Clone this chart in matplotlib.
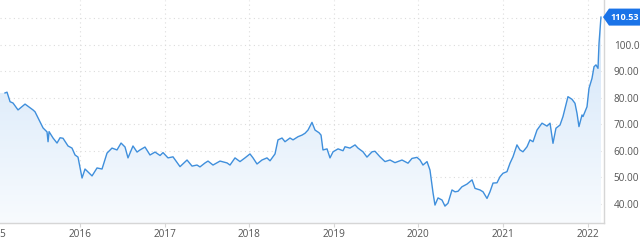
import numpy as np
import matplotlib
matplotlib.use("Agg")
import matplotlib.pyplot as plt
from matplotlib.patches import Polygon
from matplotlib.colors import LinearSegmentedColormap

plt.rcParams['font.family'] = ['Open Sans', 'DejaVu Sans']

# decimal-year dates and prices
dates = [2015.113, 2015.137, 2015.173, 2015.208, 2015.267, 2015.350, 2015.444, 2015.468,
         2015.563, 2015.610, 2015.622, 2015.634, 2015.681, 2015.728, 2015.764, 2015.799,
         2015.858, 2015.905, 2015.941, 2015.976, 2016.024, 2016.059, 2016.142, 2016.201,
         2016.260, 2016.319, 2016.378, 2016.437, 2016.485, 2016.532, 2016.567, 2016.626,
         2016.674, 2016.709, 2016.768, 2016.827, 2016.887, 2016.946, 2016.981, 2017.040,
         2017.099, 2017.182, 2017.265, 2017.324, 2017.383, 2017.418, 2017.478, 2017.513,
         2017.572, 2017.655, 2017.738, 2017.773, 2017.832, 2017.891, 2017.950, 2018.009,
         2018.045, 2018.092, 2018.151, 2018.210, 2018.246, 2018.305, 2018.340, 2018.388,
         2018.423, 2018.482, 2018.518, 2018.577, 2018.624, 2018.660, 2018.695, 2018.742,
         2018.778, 2018.825, 2018.849, 2018.872, 2018.920, 2018.955, 2018.991, 2019.050,
         2019.109, 2019.132, 2019.191, 2019.251, 2019.286, 2019.345, 2019.392, 2019.452,
         2019.487, 2019.546, 2019.605, 2019.664, 2019.723, 2019.806, 2019.877, 2019.924,
         2019.983, 2020.019, 2020.054, 2020.102, 2020.137, 2020.173, 2020.196, 2020.232,
         2020.279, 2020.314, 2020.350, 2020.397, 2020.433, 2020.468, 2020.515, 2020.574,
         2020.634, 2020.669, 2020.728, 2020.764, 2020.811, 2020.846, 2020.882, 2020.929,
         2020.965, 2021.000, 2021.047, 2021.083, 2021.118, 2021.165, 2021.201, 2021.236,
         2021.284, 2021.319, 2021.355, 2021.402, 2021.461, 2021.520, 2021.556, 2021.591,
         2021.626, 2021.674, 2021.709, 2021.768, 2021.816, 2021.851, 2021.875, 2021.898,
         2021.934, 2021.946, 2021.993, 2022.017, 2022.052, 2022.076, 2022.099, 2022.123,
         2022.135, 2022.158]
prices = [81.9, 82.2, 78.6, 78.1, 75.5, 77.7, 75.5, 74.8,
          68.7, 67.2, 63.5, 67.3, 64.9, 63.0, 65.0, 64.8,
          61.9, 61.1, 58.5, 57.7, 49.8, 53.2, 50.6, 53.6,
          53.2, 59.2, 61.1, 60.4, 63.0, 61.5, 57.4, 61.9,
          59.6, 60.4, 61.5, 58.5, 59.6, 58.3, 59.4, 57.4,
          57.8, 54.1, 56.6, 54.3, 54.7, 54.0, 55.5, 56.2,
          54.7, 56.2, 55.5, 54.7, 57.4, 56.0, 57.4, 58.9,
          57.4, 55.1, 56.6, 57.4, 56.3, 58.9, 64.2, 64.9,
          63.5, 64.9, 64.2, 65.4, 66.0, 66.7, 67.9, 70.8,
          67.9, 66.9, 66.0, 60.4, 60.8, 57.4, 59.7, 60.8,
          60.1, 61.6, 61.1, 62.3, 61.1, 59.7, 57.7, 59.7,
          59.9, 57.8, 56.0, 56.6, 55.6, 56.6, 55.4, 57.2,
          57.6, 56.6, 54.7, 56.0, 52.8, 44.2, 39.6, 42.3,
          41.5, 39.2, 40.3, 45.3, 44.6, 44.8, 46.5, 47.5,
          49.1, 45.9, 45.3, 44.6, 42.1, 44.6, 47.9, 48.0,
          50.3, 51.6, 52.2, 55.4, 57.8, 62.3, 60.4, 59.7,
          61.6, 64.2, 63.5, 67.9, 70.5, 69.4, 70.5, 62.9,
          68.6, 69.8, 73.0, 80.5, 79.5, 78.0, 74.2, 69.2,
          73.6, 73.0, 76.7, 83.7, 87.4, 91.8, 92.5, 91.2,
          100.6, 110.53]
year_ticks = [2015, 2016, 2017, 2018, 2019, 2020, 2021, 2022]
y_ticks = [40, 50, 60, 70, 80, 90, 100, 110]
last_label = "110.53"

W, H = 640, 242
fig = plt.figure(figsize=(W / 100, H / 100), dpi=100)
ax = fig.add_axes([0, 19 / H, 604 / W, 1 - 19 / H])

x = np.array(dates)
y = np.array(prices)
xmin, xmax = 2015.054, 2022.194
ymin, ymax = 32.83, 116.98
ax.set_xlim(xmin, xmax)
ax.set_ylim(ymin, ymax)

# gradient fill under the line
cmap = LinearSegmentedColormap.from_list("g", ["#f8fbfe", "#cfe3f8"])
grad = np.linspace(0, 1, 256).reshape(-1, 1)
im = ax.imshow(grad, extent=[xmin, xmax, ymin, ymax], origin="lower",
               aspect="auto", cmap=cmap, zorder=1)
verts = [(xmin, ymin), (xmin, y[0])] + list(zip(x, y)) + [(x[-1], ymin)]
poly = Polygon(verts, closed=True, facecolor="none", edgecolor="none")
ax.add_patch(poly)
im.set_clip_path(poly)

ax.plot(x, y, color="#3f8fdc", lw=1.0, zorder=3, solid_joinstyle="round")

# grid
for v in y_ticks:
    ax.axhline(v, color="#dcdcdc", lw=0.8, ls=(0, (1, 3)), zorder=0)
for t in year_ticks[1:]:
    ax.axvline(t, color="#dcdcdc", lw=0.8, ls=(0, (1, 3)), zorder=0)

for s in ["top", "left"]:
    ax.spines[s].set_visible(False)
for s in ["bottom", "right"]:
    ax.spines[s].set_color("#d6d6d6")
    ax.spines[s].set_linewidth(1)

ax.set_xticks(year_ticks[1:])
ax.set_xticklabels([str(t) for t in year_ticks[1:]])
ax.tick_params(axis="x", length=3, color="#d6d6d6", labelsize=7.2,
               labelcolor="#555555", pad=1.5)
ax.annotate(str(year_ticks[0]), xy=(year_ticks[0], 0), xycoords=ax.get_xaxis_transform(),
            xytext=(0, -4.5), textcoords="offset points",
            ha="center", va="top", fontsize=7.2, color="#555555", annotation_clip=False)

ax.yaxis.tick_right()
ax.set_yticks(y_ticks[:-1])
ax.set_yticklabels([f"{v:.2f}" for v in y_ticks[:-1]])
ax.tick_params(axis="y", length=0, labelsize=7.2, labelcolor="#555555", pad=7)

# last value badge
fig.canvas.draw()
px, py = ax.transData.transform((xmax, y[-1]))
bx0 = px - 1
hh = 8.5
pts = [(bx0, py), (bx0 + 6, py + hh), (W + 5, py + hh), (W + 5, py - hh), (bx0 + 6, py - hh)]
badge = Polygon([(a / W, b / H) for a, b in pts], closed=True, transform=fig.transFigure,
                facecolor="#1a73e8", edgecolor="none", clip_on=False)
fig.patches.append(badge)
fig.text((bx0 + 7.5) / W, py / H, last_label, ha="left", va="center", fontsize=6.6,
         fontweight="bold", color="white")

fig.savefig("out.png", dpi=100)
